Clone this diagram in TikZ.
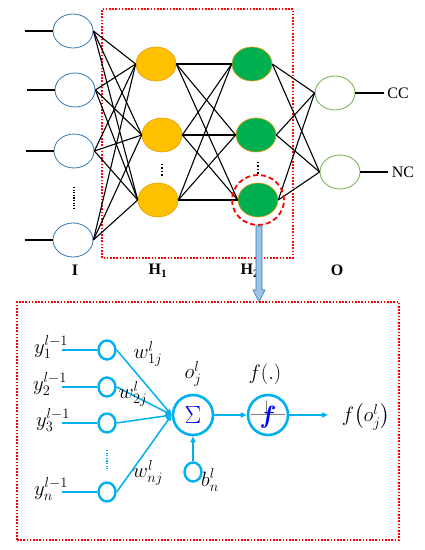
\documentclass[tikz,border=0pt]{standalone}
\usepackage{amsmath}
\usepackage{fontspec}
\setmainfont{Liberation Serif}
\usetikzlibrary{shapes.geometric,arrows.meta}
\definecolor{inblue}{HTML}{2E75B6}
\definecolor{hidorange}{HTML}{FFC000}
\definecolor{hidedge}{HTML}{E69B00}
\definecolor{hidgreen}{HTML}{00B050}
\definecolor{outgreen}{HTML}{70AD47}
\definecolor{neucyan}{HTML}{00B0F0}
\definecolor{arrblue}{HTML}{9DC3E6}
\tikzset{
  inpn/.style={ellipse,draw=inblue,fill=white,line width=0.8,minimum width=40,minimum height=34,inner sep=0},
  hidone/.style={ellipse,draw=hidedge,fill=hidorange,line width=0.6,minimum width=40,minimum height=34,inner sep=0},
  hidtwo/.style={ellipse,draw=hidedge,fill=hidgreen,line width=0.6,minimum width=40,minimum height=34,inner sep=0},
  outn/.style={ellipse,draw=outgreen,fill=white,line width=0.8,minimum width=40,minimum height=34,inner sep=0},
  wire/.style={line width=1.1,black},
  redbox/.style={draw=red,line width=1.6,dash pattern=on 1.6pt off 1.6pt},
  cnode/.style={ellipse,draw=neucyan,line width=2.4,fill=white,minimum width=17,minimum height=19,inner sep=0},
  bignode/.style={circle,draw=neucyan,line width=2.6,fill=white,minimum size=40,inner sep=0},
  cwire/.style={draw=neucyan,line width=1.5},
  carrow/.style={cwire,-{Triangle[length=6,width=5]}},
  mlab/.style={font=\fontsize{20}{22}\selectfont,inner sep=1}
}
\begin{document}
\begin{tikzpicture}[x=1pt,y=1pt,every node/.style={font=\fontsize{16}{18}\selectfont}]
\useasboundingbox (0,0) rectangle (424,550);
\draw[redbox] (102,292) rectangle (293,541);
\node[inpn] (i1) at (73,519) {};
\node[inpn] (i2) at (75,460) {};
\node[inpn] (i3) at (74,399) {};
\node[inpn] (i4) at (73,310) {};
\node[hidone] (ha1) at (156,486) {};
\node[hidone] (ha2) at (162,415) {};
\node[hidone] (ha3) at (158,350) {};
\node[hidtwo] (hb1) at (252,486) {};
\node[hidtwo] (hb2) at (256,415) {};
\node[hidtwo] (hb3) at (258,350) {};
\node[outn] (o1) at (335,457) {};
\node[outn] (o2) at (340,378) {};
\foreach \a in {1,...,4} {\foreach \b in {1,2,3} {\draw[wire] (i\a.east) -- (ha\b.west);}}
\foreach \a in {1,2,3} {\foreach \b in {1,2,3} {\draw[wire] (ha\a.east) -- (hb\b.west);}}
\foreach \a in {1,2,3} {\foreach \b in {1,2} {\draw[wire] (hb\a.east) -- (o\b.west);}}
\foreach \a in {1,...,4} {\coordinate (in\a) at ([xshift=-28]i\a.west); \draw[wire] (in\a) -- (i\a.west);}
\node (cc) at (398,457) {CC};
\node (nc) at (403,378) {NC};
\draw[wire] (o1.east) -- (cc.west);
\draw[wire] (o2.east) -- (nc.west);
\draw[black,line width=1.2,dash pattern=on 1.2pt off 1.4pt] (74,363) -- (74,340);
\draw[black,line width=1.4,dash pattern=on 1.5pt off 2pt] (162,386) -- (162,374);
\draw[black,line width=1.4,dash pattern=on 1.5pt off 2pt] (258,388) -- (258,376);
\draw[red,line width=1.8,dash pattern=on 5pt off 3pt] (hb3) ellipse [x radius=26,y radius=25];
\node[font=\bfseries\fontsize{16}{18}\selectfont] (li) at (75,280) {I};
\node[font=\bfseries\fontsize{16}{18}\selectfont] (lh1) at (158,279) {H\textsubscript{1}};
\node[font=\bfseries\fontsize{16}{18}\selectfont] (lh2) at (250,279) {H\textsubscript{2}};
\node[font=\bfseries\fontsize{16}{18}\selectfont] (lo) at (337,280) {O};
\draw[draw=inblue,fill=arrblue,line width=0.6] (256,324) -- (262,324) -- (262,260) -- (265,260) -- (259,248) -- (253,260) -- (256,260) -- cycle;
\draw[redbox] (17,10) rectangle (399,248);
\node[cnode] (x1) at (107,200) {};
\node[cnode] (x2) at (107,163) {};
\node[cnode] (x3) at (107,127) {};
\node[cnode] (x4) at (107,58) {};
\node[bignode] (sig) at (193,135) {\textcolor{blue}{\fontsize{24}{26}\selectfont$\Sigma$}};
\node[bignode] (fn) at (268,135) {};
\draw[gray,line width=1] ([xshift=4]fn.west) -- ([xshift=-4]fn.east);
\draw[gray,line width=0.8] (266,135) -- (266,149);
\node (fsym) at (268,133) {\textcolor{blue}{\fontsize{26}{28}\selectfont$\boldsymbol{f}$}};
\node[cnode] (bias) at (193,78) {};
\node[mlab] (ly1) at (51,203) {$y_1^{l-1}$};
\node[mlab] (ly2) at (50,166) {$y_2^{l-1}$};
\node[mlab] (ly3) at (53,130) {$y_3^{l-1}$};
\node[mlab] (ly4) at (51,61) {$y_n^{l-1}$};
\foreach \k in {1,...,4} {\draw[cwire] (x\k.west) -- ([xshift=-35]x\k.west);}
\foreach \k in {1,...,4} {\draw[carrow] (x\k.east) -- (sig.west);}
\draw[neucyan,line width=1.4,dash pattern=on 1.2pt off 1.4pt] (107,100) -- (107,80);
\node[mlab] (w1) at (148,196) {$w_{1j}^{l}$};
\node[mlab] (w2) at (133,156) {$w_{2j}^{l}$};
\node[mlab] (wn) at (148,77) {$w_{nj}^{l}$};
\node[mlab] (loj) at (193,176) {$o_j^{l}$};
\node[mlab] (lf) at (265,176) {$f(.)$};
\node[mlab,anchor=west] (lb) at (200,70) {$b_n^{l}$};
\draw[carrow] (sig.east) -- (fn.west);
\draw[carrow] (bias.north) -- (sig.south);
\coordinate (fout) at (328,135);
\draw[carrow] (fn.east) -- (fout);
\node[mlab] (lfo) at (366,133) {$f\bigl(o_j^{l}\bigr)$};
\end{tikzpicture}
\end{document}
